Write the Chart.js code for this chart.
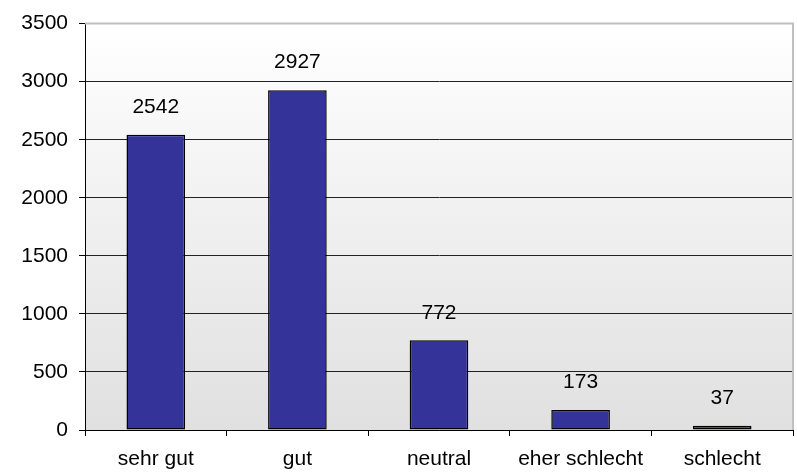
<!DOCTYPE html>
<html>
<head>
<meta charset="utf-8">
<script src="https://cdn.jsdelivr.net/npm/chart.js@4/dist/chart.umd.min.js"></script>
<style>
  html, body { margin: 0; padding: 0; background: #fff; }
  #wrap { width: 797px; height: 472px; }
</style>
</head>
<body>
<div id="wrap"><canvas id="chart" width="797" height="472"></canvas></div>
<script>
// Daten
const categories = ['sehr gut', 'gut', 'neutral', 'eher schlecht', 'schlecht'];
const values = [2542, 2927, 772, 173, 37];
const yTicks = [0, 500, 1000, 1500, 2000, 2500, 3000, 3500];

const FONT = 'Liberation Sans, Arial, sans-serif';

// Hintergrundverlauf der Zeichenfläche + grauer Rahmen oben/rechts
const plotBackground = {
    id: 'plotBackground',
    beforeDraw(chart) {
        const { ctx, chartArea: a } = chart;
        const g = ctx.createLinearGradient(0, a.top, 0, a.bottom);
        g.addColorStop(0, '#ffffff');
        g.addColorStop(1, '#e0e0e0');
        ctx.save();
        ctx.fillStyle = g;
        ctx.fillRect(a.left, a.top, a.right - a.left, a.bottom - a.top);
        ctx.restore();
    },
    afterDatasetsDraw(chart) {
        const { ctx, chartArea: a } = chart;
        ctx.save();
        ctx.strokeStyle = '#c0c0c0';
        ctx.lineWidth = 2;
        ctx.beginPath();
        ctx.moveTo(a.left, a.top);
        ctx.lineTo(a.right, a.top);
        ctx.lineTo(a.right, a.bottom);
        ctx.stroke();
        ctx.restore();
    }
};

// Werte über den Balken
const valueLabels = {
    id: 'valueLabels',
    afterDatasetsDraw(chart) {
        const { ctx } = chart;
        const meta = chart.getDatasetMeta(0);
        ctx.save();
        ctx.font = '21px ' + FONT;
        ctx.fillStyle = '#000';
        ctx.textAlign = 'center';
        ctx.textBaseline = 'middle';
        meta.data.forEach((bar, i) => {
            ctx.fillText(String(values[i]), bar.x, bar.y - 27.5);
        });
        ctx.restore();
    }
};

new Chart(document.getElementById('chart'), {
    type: 'bar',
    data: {
        labels: categories,
        datasets: [{
            data: values,
            backgroundColor: '#333399',
            borderColor: '#000000',
            borderWidth: 1.5,
            borderSkipped: false,
            categoryPercentage: 1,
            barPercentage: 0.414
        }]
    },
    options: {
        responsive: false,
        animation: false,
        layout: { padding: { top: 19, right: 4, left: 0, bottom: 0 } },
        plugins: {
            legend: { display: false },
            tooltip: { enabled: false }
        },
        scales: {
            x: {
                afterFit: (s) => { s.height = 42; },
                grid: {
                    offset: true,
                    drawOnChartArea: false,
                    drawTicks: true,
                    tickLength: 6,
                    color: '#000'
                },
                border: { color: '#000', width: 1 },
                ticks: {
                    color: '#000',
                    padding: 11,
                    font: { family: FONT, size: 21 },
                    maxRotation: 0,
                    autoSkip: false
                }
            },
            y: {
                min: 0,
                max: 3500,
                afterFit: (s) => { s.width = 85; },
                afterBuildTicks: (s) => { s.ticks = yTicks.map(v => ({ value: v })); },
                grid: {
                    tickLength: 6,
                    color: (c) => (c.tick && c.tick.value === 3500) ? '#c0c0c0' : '#222222',
                    tickColor: '#000'
                },
                border: { color: '#000', width: 1 },
                ticks: {
                    color: '#000',
                    padding: 11,
                    font: { family: FONT, size: 21 },
                    callback: (v) => String(v)
                }
            }
        }
    },
    plugins: [plotBackground, valueLabels]
});
</script>
</body>
</html>
